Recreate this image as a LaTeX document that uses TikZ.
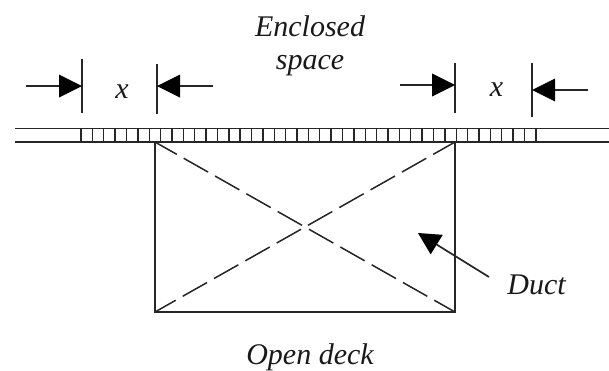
\documentclass[tikz,border=0pt]{standalone}
\usepackage{fontspec}
\setmainfont{Liberation Serif}
\usetikzlibrary{arrows.meta}
\tikzset{
  ln/.style={draw=black!85,line width=1.7pt},
  thin ln/.style={draw=black!85,line width=1.4pt},
  bigarrow/.style={ln,-{Triangle[length=23pt,width=23pt,color=black,fill=black,line width=0pt]}},
  duct arrow/.style={ln,-{Triangle[length=22pt,width=23pt,color=black,fill=black,line width=0pt]}},
  dash ln/.style={draw=black!85,line width=1.5pt,dash pattern=on 28pt off 8pt,dash phase=3pt},
  lbl/.style={font=\itshape\fontsize{30}{32}\selectfont,inner sep=0pt,text=black!90,anchor=base}
}
\begin{document}
\begin{tikzpicture}[x=1pt,y=-1pt]
\useasboundingbox (0,0) rectangle (609,370);
\fill[white] (0,0) rectangle (609,370);
% wall
\coordinate (wtl) at (15,128.5); \coordinate (wtr) at (609,128.5);
\coordinate (wbl) at (15,142); \coordinate (wbr) at (609,142);
\draw[ln] (wtl) -- (wtr);
\draw[ln] (wbl) -- (wbr);
\foreach \i in {0,...,39}{
  \draw[thin ln] ({81+\i*11.37},128.5) -- ({81+\i*11.37},142);
}
\draw[thin ln] (536,128.5) -- (536,142);
% duct
\coordinate (a) at (155,142); \coordinate (b) at (455,142);
\coordinate (c) at (455,312); \coordinate (d) at (155,312);
\draw[ln] (a) -- (d) -- (c) -- (b);
\draw[dash ln] (a) -- (c);
\draw[dash ln] (b) -- (d);
% ticks
\coordinate (t1a) at (82,59); \coordinate (t1b) at (82,113);
\coordinate (t2a) at (157,64); \coordinate (t2b) at (157,114);
\coordinate (t3a) at (455,63); \coordinate (t3b) at (455,113);
\coordinate (t4a) at (532,63); \coordinate (t4b) at (532,117);
\draw[ln] (t1a) -- (t1b);
\draw[ln] (t2a) -- (t2b);
\draw[ln] (t3a) -- (t3b);
\draw[ln] (t4a) -- (t4b);
% arrows
\coordinate (s1) at (26,86); \coordinate (e1) at (82,86);
\coordinate (s2) at (213,86); \coordinate (e2) at (157,86);
\coordinate (s3) at (400,85); \coordinate (e3) at (455,85);
\coordinate (s4) at (588,90); \coordinate (e4) at (532,90);
\draw[bigarrow] (s1) -- (e1);
\draw[bigarrow] (s2) -- (e2);
\draw[bigarrow] (s3) -- (e3);
\draw[bigarrow] (s4) -- (e4);
% labels
\node[lbl] (x1) at (122,98.5) {x};
\node[lbl] (x2) at (496.5,96.5) {x};
\node[lbl] (encl) at (310,36) {Enclosed};
\node[lbl] (spc) at (310,69) {space};
\node[lbl] (duct) at (536.5,294) {Duct};
\node[lbl] (open) at (310,364) {Open deck};
\coordinate (ds) at (489,277); \coordinate (de) at (418,233);
\draw[duct arrow] (ds) -- (de);
\end{tikzpicture}
\end{document}
